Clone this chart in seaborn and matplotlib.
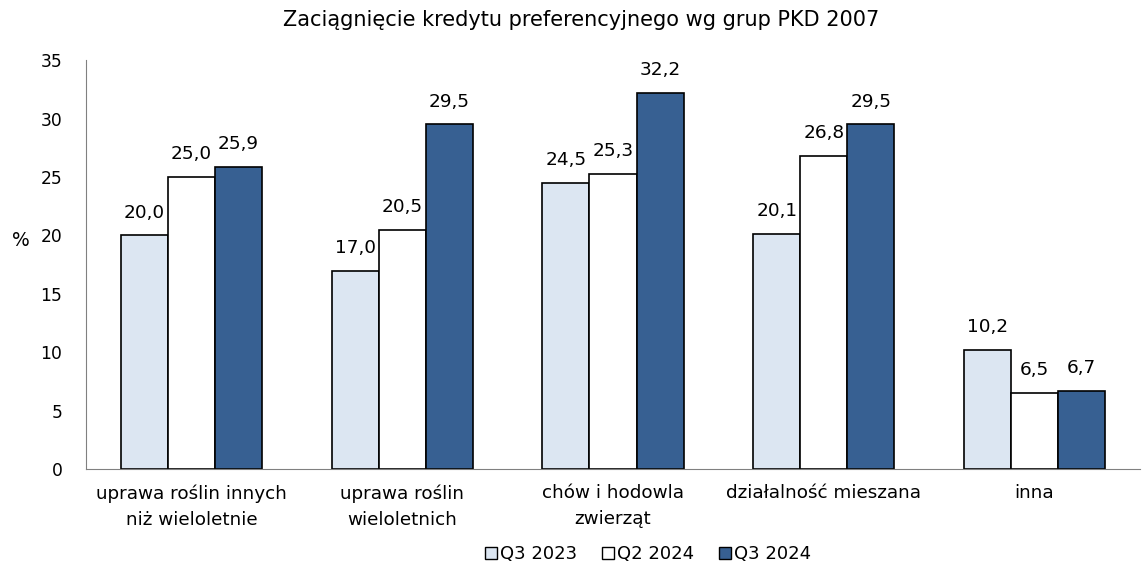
import matplotlib
matplotlib.use("Agg")
import matplotlib.pyplot as plt
import seaborn as sns
import pandas as pd
from matplotlib.patches import Patch

categories = [
    "uprawa roślin innych\nniż wieloletnie",
    "uprawa roślin\nwieloletnich",
    "chów i hodowla\nzwierząt",
    "działalność mieszana",
    "inna",
]
periods = ["Q3 2023", "Q2 2024", "Q3 2024"]
q3_2023 = [20.0, 17.0, 24.5, 20.1, 10.2]
q2_2024 = [25.0, 20.5, 25.3, 26.8, 6.5]
q3_2024 = [25.9, 29.5, 32.2, 29.5, 6.7]
colors = ["#DCE6F2", "#FFFFFF", "#376092"]

df = pd.DataFrame({
    "grupa": categories * 3,
    "okres": [p for p in periods for _ in categories],
    "wartosc": q3_2023 + q2_2024 + q3_2024,
})

sns.set_style("white")
plt.rcParams["font.family"] = ["DejaVu Sans"]
plt.rcParams["text.color"] = "black"
plt.rcParams["xtick.color"] = "black"
plt.rcParams["ytick.color"] = "black"
plt.rcParams["axes.labelcolor"] = "black"

fig = plt.figure(figsize=(11.43, 5.68), dpi=100)
ax = fig.add_axes([0.0753, 0.174, 0.922, 0.72])

sns.barplot(data=df, x="grupa", y="wartosc", hue="okres", order=categories,
            hue_order=periods, palette=colors, width=0.67, edgecolor="black",
            linewidth=1.2, saturation=1, ax=ax, legend=False)

for container in ax.containers:
    ax.bar_label(container, labels=[f"{v:.1f}".replace(".", ",") for v in container.datavalues],
                 padding=10, fontsize=13.3)

ax.set_ylim(0, 35)
ax.set_yticks(range(0, 36, 5))
ax.set_xlim(-0.5, 4.5)
ax.tick_params(axis="both", length=0)
ax.tick_params(axis="y", pad=17, labelsize=12.3)
ax.tick_params(axis="x", pad=11, labelsize=13.2)
for lbl in ax.get_xticklabels():
    lbl.set_linespacing(1.55)
ax.set_xlabel("")
ax.set_ylabel("%", rotation=0, fontsize=13.5)
ax.yaxis.label.set_va("center")
ax.yaxis.set_label_coords(-0.062, 0.56)
for s in ["top", "right"]:
    ax.spines[s].set_visible(False)
ax.spines["left"].set_color("#808080")
ax.spines["bottom"].set_color("#808080")

fig.suptitle("Zaciągnięcie kredytu preferencyjnego wg grup PKD 2007", fontsize=15,
             x=0.508, y=0.982, va="top")

handles = [Patch(facecolor=c, edgecolor="black", linewidth=1) for c in colors]
fig.legend(handles, periods, loc="lower center", bbox_to_anchor=(0.567, -0.02), ncol=3,
           frameon=False, fontsize=13, handlelength=0.65, handleheight=0.65,
           handletextpad=0.15, columnspacing=1.4)

fig.savefig("out.png", dpi=100)
